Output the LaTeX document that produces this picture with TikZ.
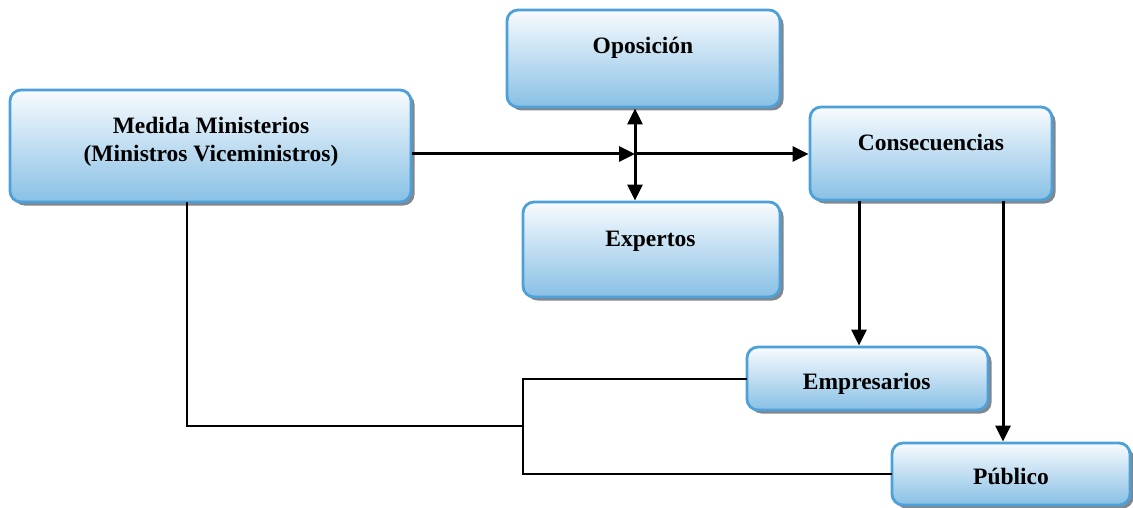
\documentclass[tikz,border=0pt]{standalone}
\usepackage{fontspec}
\setmainfont{Liberation Serif}
\usetikzlibrary{arrows.meta,shadows}
\definecolor{boxborder}{RGB}{78,160,216}
\definecolor{boxtop}{RGB}{248,251,254}
\definecolor{boxbottom}{RGB}{136,192,229}
\definecolor{shadowgray}{RGB}{130,135,142}
\tikzset{
  box/.style={draw=boxborder, line width=2.8pt, rounded corners=11pt,
    top color=boxtop, bottom color=boxbottom,
    drop shadow={shadow xshift=3.5pt, shadow yshift=-3.5pt, fill=shadowgray, opacity=1},
    inner sep=0pt},
  lbl/.style={font=\fontsize{23.5}{28}\selectfont\bfseries, inner sep=0pt, align=center},
  arr/.style={line width=3pt, -{Triangle[length=16pt,width=15pt]}},
  biarr/.style={line width=3pt, {Triangle[length=16pt,width=15pt]}-{Triangle[length=16pt,width=15pt]}},
  conn/.style={line width=2pt, line cap=rect}
}
\begin{document}
\begin{tikzpicture}[x=1pt,y=-1pt]
\useasboundingbox (0,0) rectangle (1133,508);
% boxes
\node[box, minimum width=401pt, minimum height=112pt] (med) at (210.5,146) {};
\node[box, minimum width=273pt, minimum height=97pt] (opo) at (643.5,58.5) {};
\node[box, minimum width=257pt, minimum height=95pt] (exp) at (651.5,249.5) {};
\node[box, minimum width=242pt, minimum height=93pt] (con) at (931,153.5) {};
\node[box, minimum width=241pt, minimum height=63pt] (emp) at (867.5,378.5) {};
\node[box, minimum width=238pt, minimum height=62pt] (pub) at (1011,474) {};
% labels
\node[lbl] (tmed) at (211,142) {Medida Ministerios\\(Ministros Viceministros)};
\node[lbl, anchor=base] (topo) at (643,54) {Oposición};
\node[lbl, anchor=base] (texp) at (650.5,246) {Expertos};
\node[lbl, anchor=base] (tcon) at (931,150) {Consecuencias};
\node[lbl, anchor=base] (temp) at (866.7,389) {Empresarios};
\node[lbl, anchor=base] (tpub) at (1011,484) {Público};
% coordinates
\coordinate (cross) at (635,154);
\coordinate (c1) at (859,0);
\coordinate (c2) at (1003,0);
\coordinate (m1) at (186.5,0);
\coordinate (j) at (522.5,426);
% arrows
\draw[arr] (med.east |- cross) -- (cross);
\draw[arr] (cross) -- (con.west |- cross);
\draw[biarr] (opo.south -| cross) -- (exp.north -| cross);
\draw[arr] (con.south -| c1) -- (emp.north -| c1);
\draw[arr] (con.south -| c2) -- (pub.north -| c2);
% connectors
\draw[conn] (med.south -| m1) |- (j);
\draw[conn] (emp.west) -| (j) |- (pub.west);
\end{tikzpicture}
\end{document}
